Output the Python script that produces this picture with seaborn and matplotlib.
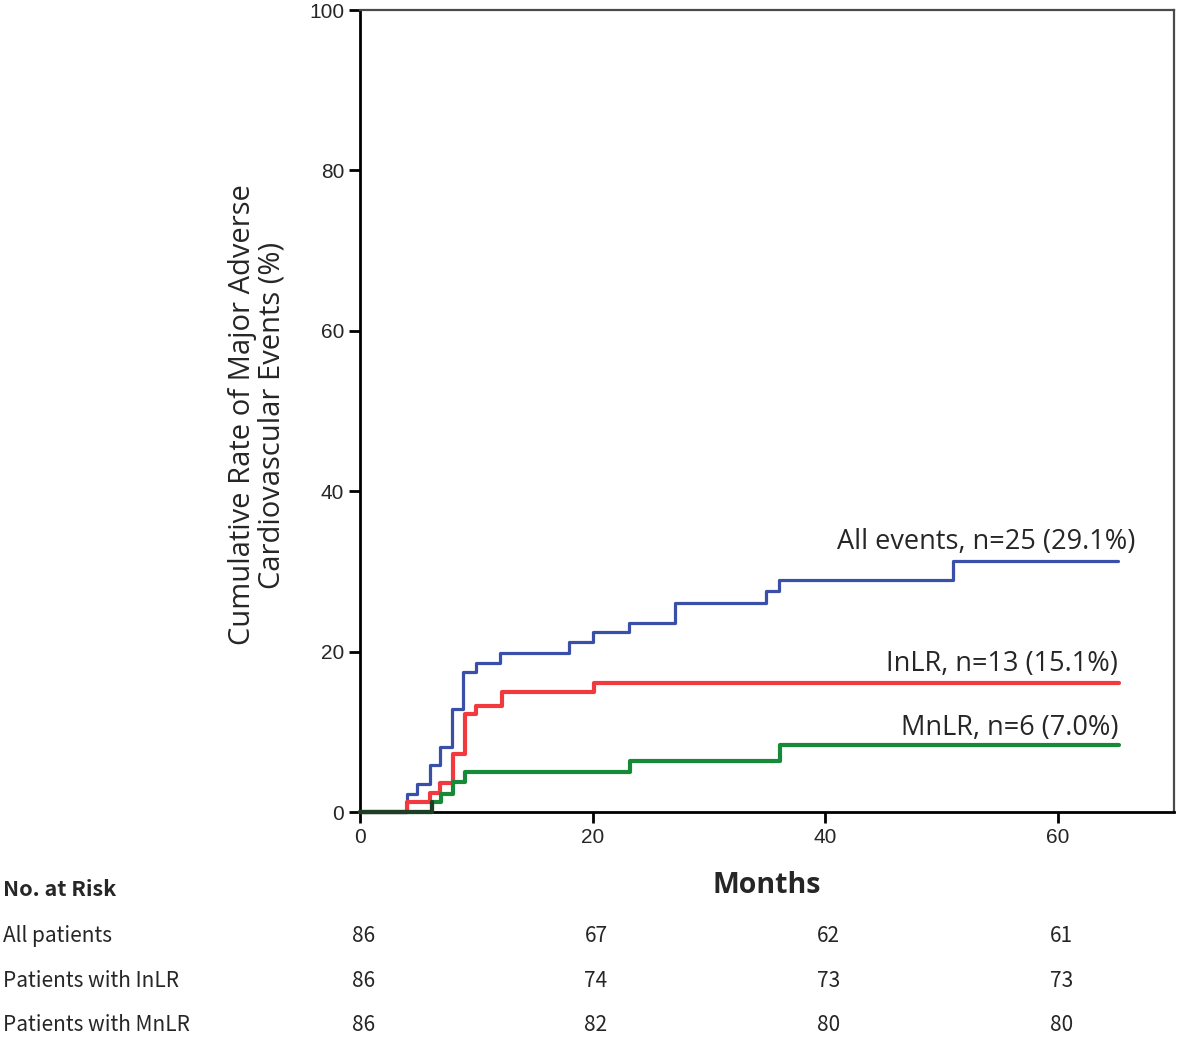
import numpy as np
import pandas as pd
import matplotlib
matplotlib.use("Agg")
import matplotlib.pyplot as plt
import matplotlib.transforms as mtransforms
import seaborn as sns

# Step-curve data (months, cumulative %)
all_months = [0, 4.0, 4.9, 6.0, 6.9, 7.9, 8.9, 10.0, 12.0, 18.0, 20.0, 23.1, 27.1, 34.9, 36.0, 51.0, 65.2]
all_rate = [0, 2.3, 3.5, 5.8, 8.1, 12.8, 17.4, 18.6, 19.8, 21.2, 22.4, 23.6, 26.0, 27.5, 28.9, 31.3, 31.3]

inlr_months = [0, 4.0, 6.0, 6.9, 8.0, 9.0, 10.0, 12.2, 20.1, 65.3]
inlr_rate = [0, 1.2, 2.4, 3.6, 7.2, 12.2, 13.2, 15.0, 16.1, 16.1]

mnlr_months = [0, 6.2, 7.0, 8.0, 9.0, 23.2, 36.1, 65.3]
mnlr_rate = [0, 1.2, 2.3, 3.7, 5.0, 6.4, 8.3, 8.3]

curve_labels = ["All events, n=25 (29.1%)", "InLR, n=13 (15.1%)", "MnLR, n=6 (7.0%)"]

# Number at risk table
risk_months = [0, 20, 40, 60]
risk_rows = ["All patients", "Patients with InLR", "Patients with MnLR"]
risk_all = [86, 67, 62, 61]
risk_inlr = [86, 74, 73, 73]
risk_mnlr = [86, 82, 80, 80]

sns.set_style("ticks")
plt.rcParams["font.family"] = ["Noto Sans CJK KR", "DejaVu Sans"]

fig = plt.figure(figsize=(11.81, 10.37), dpi=100)
ax = fig.add_axes([360 / 1181, 1 - 812 / 1037, 814 / 1181, 802 / 1037])

df_all = pd.DataFrame({"Months": all_months, "Rate": all_rate})
df_inlr = pd.DataFrame({"Months": inlr_months, "Rate": inlr_rate})
df_mnlr = pd.DataFrame({"Months": mnlr_months, "Rate": mnlr_rate})

sns.lineplot(data=df_all, x="Months", y="Rate", ax=ax, color="#3a50a8", linewidth=2.3,
             drawstyle="steps-post", estimator=None, clip_on=False, zorder=3)
sns.lineplot(data=df_inlr, x="Months", y="Rate", ax=ax, color="#f03a3e", linewidth=3.0,
             drawstyle="steps-post", estimator=None, clip_on=False, zorder=3)
sns.lineplot(data=df_mnlr, x="Months", y="Rate", ax=ax, color="#178a3a", linewidth=3.0,
             drawstyle="steps-post", estimator=None, clip_on=False, zorder=4)
# overlapping event-free start of the three curves shows up dark
sns.lineplot(data=df_mnlr.iloc[:2], x="Months", y="Rate", ax=ax, color="#1d3d24", linewidth=3.0,
             drawstyle="steps-post", estimator=None, clip_on=False, zorder=5)

# Curve labels
label_font = ["Open Sans", "DejaVu Sans"]
ax.text(66.7, 33.7, curve_labels[0], ha="right", va="center", fontsize=19.5, family=label_font)
ax.text(65.2, 18.4, curve_labels[1], ha="right", va="center", fontsize=19.5, family=label_font)
ax.text(65.2, 10.5, curve_labels[2], ha="right", va="center", fontsize=19.5, family=label_font)

ax.set_xlim(0, 70)
ax.set_ylim(0, 100)
ax.set_xticks([0, 20, 40, 60])
ax.set_yticks([0, 20, 40, 60, 80, 100])
ax.tick_params(axis="both", direction="out", length=8, width=2, color="black", labelsize=15)
for lab in ax.get_xticklabels() + ax.get_yticklabels():
    lab.set_family("Liberation Sans")

for side in ["left", "bottom"]:
    ax.spines[side].set_linewidth(2)
    ax.spines[side].set_color("black")
for side in ["top", "right"]:
    ax.spines[side].set_linewidth(1.6)
    ax.spines[side].set_color("#4a4a4a")

ax.set_xlabel("Months", fontsize=20.5, fontweight="bold", family=label_font, labelpad=17)
ax.set_ylabel("Cumulative Rate of Major Adverse\nCardiovascular Events (%)", fontsize=21,
              family=label_font, linespacing=1.05)
ax.yaxis.set_label_coords(-0.09, 0.495)

# No. at risk table below the axis
trans = mtransforms.blended_transform_factory(ax.transData, fig.transFigure)
fig.text(3 / 1181, 1 - 890 / 1037, "No. at Risk", fontsize=15.5, fontweight="bold", ha="left", va="center")
row_y = [936, 981, 1025]
for label, counts, y in zip(risk_rows, [risk_all, risk_inlr, risk_mnlr], row_y):
    fig.text(3 / 1181, 1 - y / 1037, label, fontsize=15, ha="left", va="center")
    for m, c in zip(risk_months, counts):
        ax.text(m + 0.3, 1 - y / 1037, str(c), transform=trans, fontsize=15, ha="center", va="center")

plt.savefig("out.png", dpi=100)
